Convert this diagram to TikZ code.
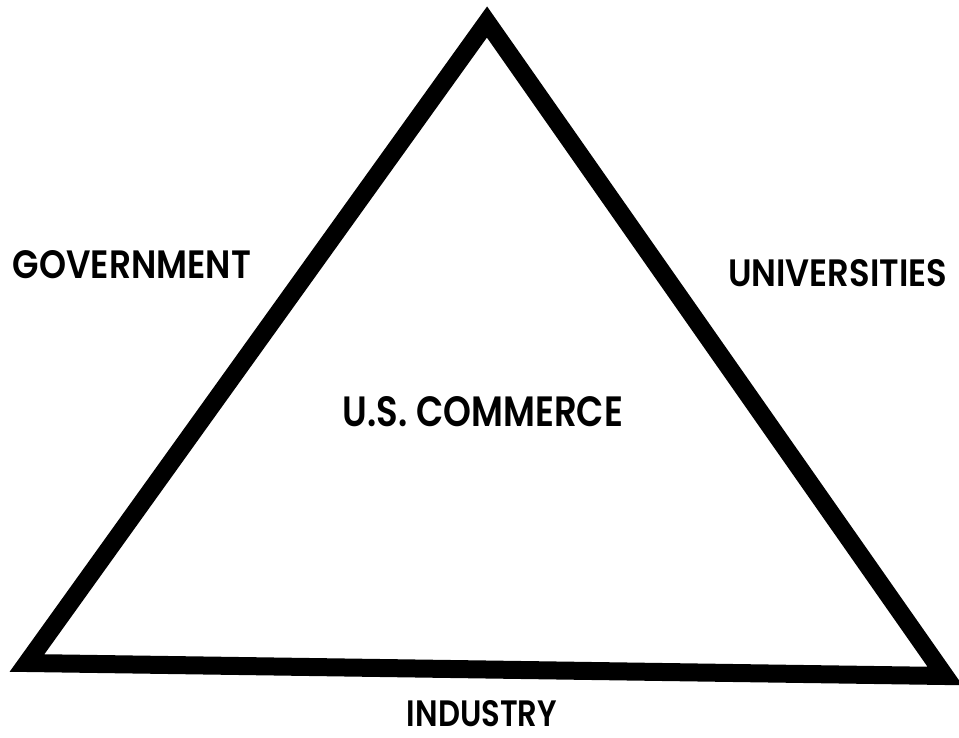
\documentclass[tikz,border=0pt]{standalone}
\usepackage{graphicx}
\usepackage{fontspec}
\setmainfont{Poppins}
\newfontfamily\labelfont{Poppins SemiBold}
\tikzset{
  edge/.style={line width=18pt, line join=miter, draw=black},
  lbl/.style={inner sep=0pt, outer sep=0pt, anchor=center, font=\labelfont},
}
\newcommand{\fitlabel}[3]{\resizebox{#1pt}{#2pt}{#3}}
\begin{document}
\begin{tikzpicture}[x=1pt,y=-1pt]
\useasboundingbox (0,0) rectangle (959,738);
\coordinate (A) at (487,22);
\coordinate (B) at (27,663);
\coordinate (C) at (945,676);
\draw[edge] (A) -- (B) -- (C) -- cycle;
\node[lbl] (gov) at (132,265) {\fitlabel{238}{28}{GOVERNMENT}};
\node[lbl] (uni) at (837.5,273.5) {\fitlabel{219}{27}{UNIVERSITIES}};
\node[lbl] (com) at (483,411.5) {\fitlabel{280}{30}{U.S. COMMERCE}};
\node[lbl] (ind) at (482,714) {\fitlabel{150}{26}{INDUSTRY}};
\end{tikzpicture}
\end{document}
